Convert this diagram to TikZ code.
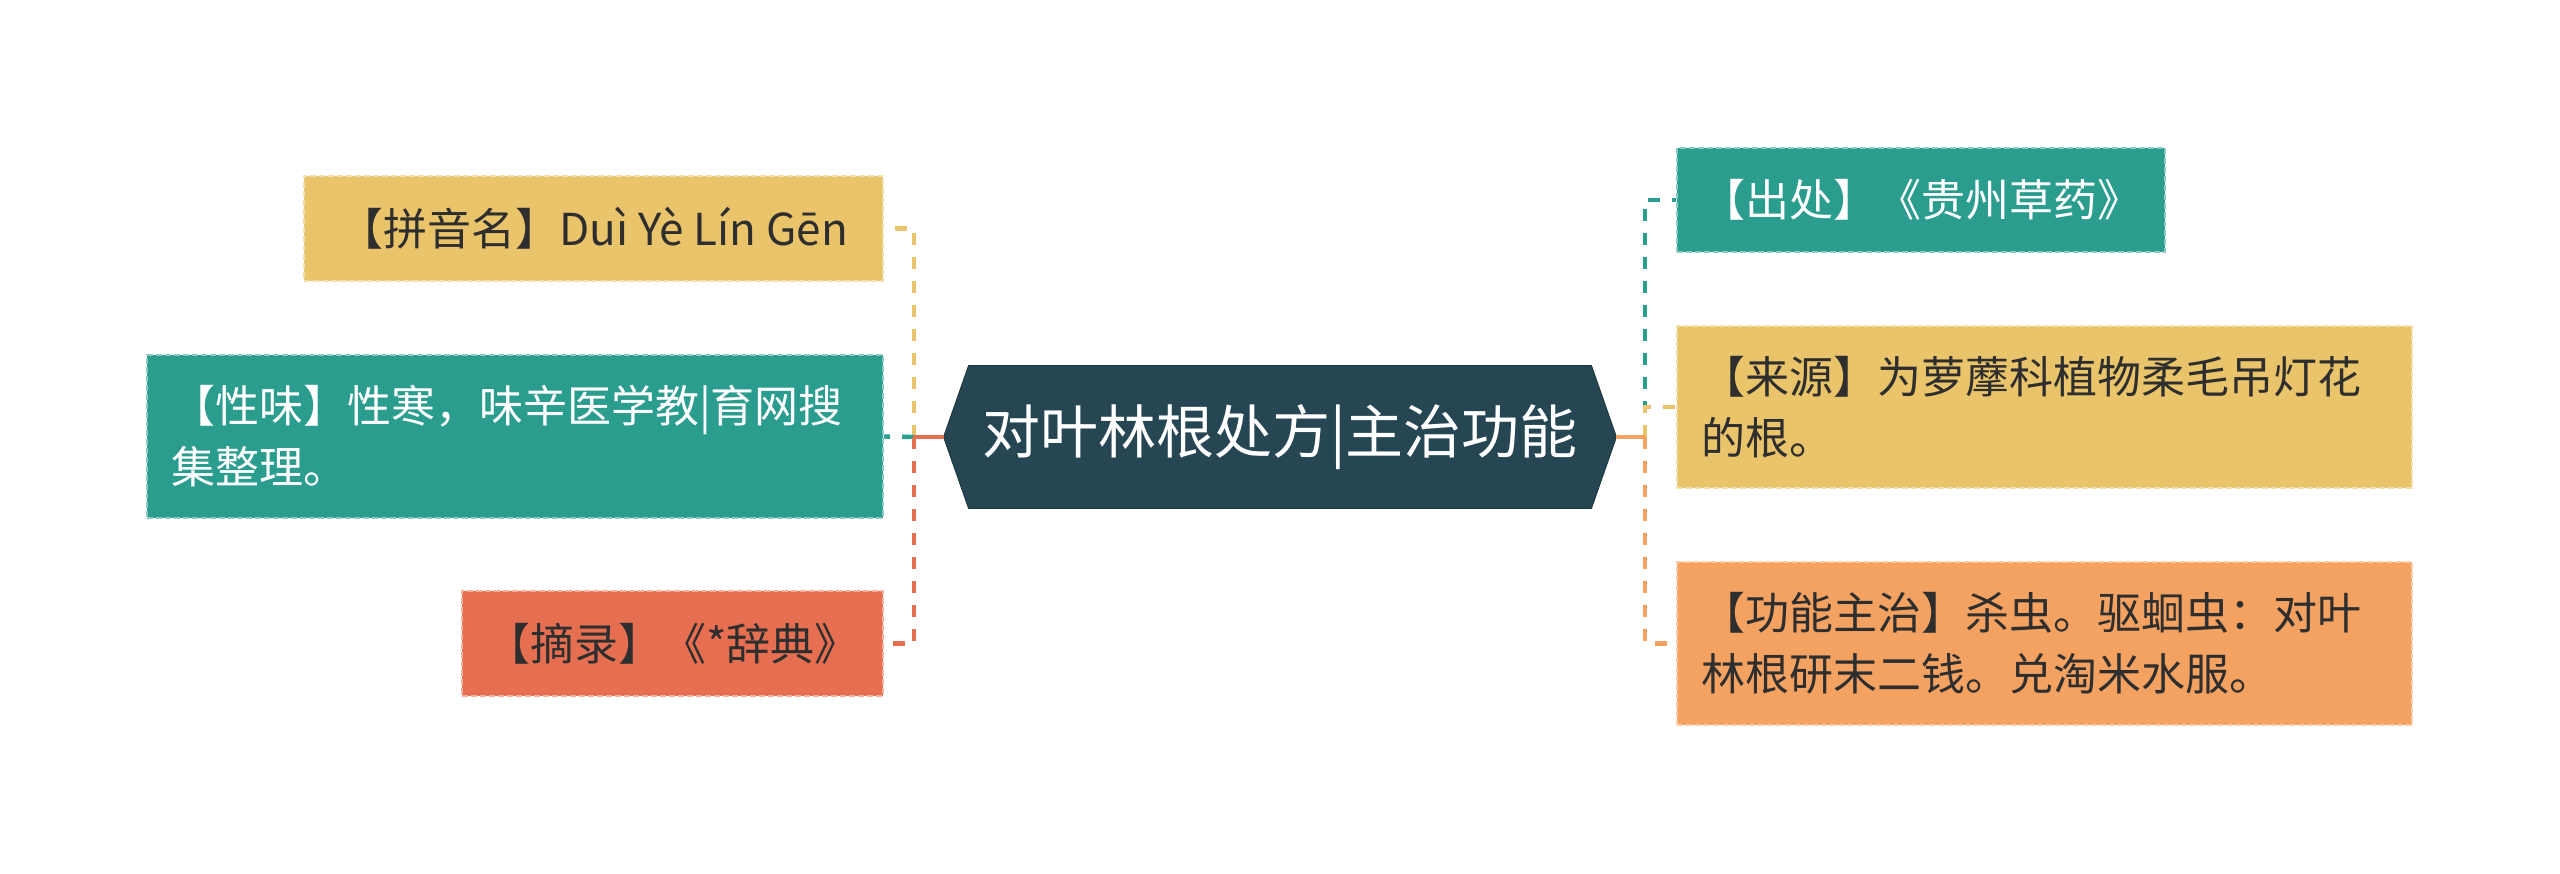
\documentclass[tikz,border=0pt]{standalone}
\usepackage{fontspec}
\setmainfont{Noto Sans CJK SC}
\usetikzlibrary{backgrounds}
\definecolor{cteal}{HTML}{2A9D8F}
\definecolor{cyellow}{HTML}{E9C46A}
\definecolor{corange}{HTML}{F4A261}
\definecolor{cred}{HTML}{E76F51}
\definecolor{cdark}{HTML}{264653}
\definecolor{ctext}{HTML}{2E2E2E}
\begin{document}
\begin{tikzpicture}[x=0.5pt,y=-0.5pt,
  box/.style={rectangle, inner sep=0pt, font=\fontsize{22}{30.5}\selectfont,
    line width=1pt, dash pattern=on 3pt off 1.5pt},
  conn/.style={line width=2.2pt},
  dconn/.style={conn, dash pattern=on 6pt off 6pt}]
\useasboundingbox (0,0) rectangle (2560,873);

% center
\node[font=\fontsize{29}{35}\selectfont, text=white, minimum width=336pt,
  minimum height=71pt, inner sep=0pt] (ct) at (1280,437) {对叶林根处方|主治功能};
\begin{scope}[on background layer]
\filldraw[fill=cdark, draw=cdark!80!black, line width=0.5pt]
  (ct.west) -- ([xshift=12.5pt]ct.north west) -- ([xshift=-12.5pt]ct.north east)
  -- (ct.east) -- ([xshift=-12.5pt]ct.south east) -- ([xshift=12.5pt]ct.south west) -- cycle;
\end{scope}

% left
\node[box, fill=cyellow, draw=cyellow!55!white, text=ctext,
  minimum width=289.5pt, minimum height=52.5pt] (py) at (593.5,228.5)
  {【拼音名】Duì Yè Lín Gēn};
\node[box, fill=cteal, draw=cteal!55!white, text=white, align=left, text width=344pt,
  minimum width=368pt, minimum height=81.5pt] (xw) at (515,436.5)
  {【性味】性寒，味辛医学教|育网搜\\集整理。};
\node[box, fill=cred, draw=cred!55!white, text=ctext,
  minimum width=210.5pt, minimum height=52.5pt] (zl) at (672.5,643.5)
  {【摘录】《*辞典》};

% right
\node[box, fill=cteal, draw=cteal!55!white, text=white,
  minimum width=244pt, minimum height=52pt] (cc) at (1921,200)
  {【出处】《贵州草药》};
\node[box, fill=cyellow, draw=cyellow!55!white, text=ctext, align=left, text width=343.5pt,
  minimum width=367.5pt, minimum height=81pt] (ly) at (2044.5,407)
  {【来源】为萝藦科植物柔毛吊灯花\\的根。};
\node[box, fill=corange, draw=corange!55!white, text=ctext, align=left, text width=343.5pt,
  minimum width=367.5pt, minimum height=81.5pt] (gn) at (2044.5,643.5)
  {【功能主治】杀虫。驱蛔虫：对叶\\林根研末二钱。兑淘米水服。};

\coordinate (lt) at (914,437);
\coordinate (rt) at (1645,437);

\draw[dconn, cyellow] (lt) |- (py.east);
\draw[dconn, cteal] (lt) -- (xw.east);
\draw[dconn, cred] (lt) |- (zl.east);
\draw[conn, cred] (ct.west) -- (lt);

\draw[dconn, cteal] (rt) |- (cc.west);
\draw[dconn, cyellow] (rt) |- (ly.west);
\draw[dconn, corange] (rt) |- (gn.west);
\draw[conn, corange] (ct.east) -- (rt);
\end{tikzpicture}
\end{document}
